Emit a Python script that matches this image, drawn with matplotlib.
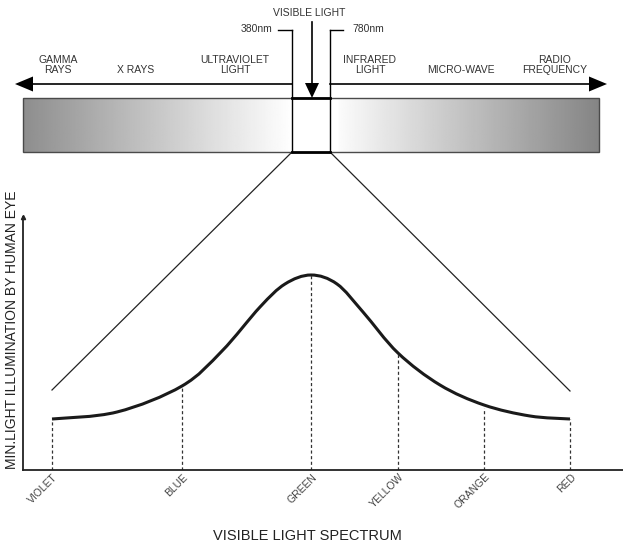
import numpy as np
import matplotlib
matplotlib.use("Agg")
import matplotlib.pyplot as plt
from matplotlib.patches import Polygon, Rectangle, PathPatch
from matplotlib.path import Path
from matplotlib.transforms import ScaledTranslation

plt.rcParams['font.family'] = ['Liberation Sans', 'DejaVu Sans']

# --- data -------------------------------------------------------------
band_names = ["GAMMA\nRAYS", "X RAYS", "ULTRAVIOLET\nLIGHT",
              "INFRARED\nLIGHT", "MICRO-WAVE", "RADIO\nFREQUENCY"]
visible_from = "380nm"
visible_to = "780nm"

colour_names = ["VIOLET", "BLUE", "GREEN", "YELLOW", "ORANGE", "RED"]
colour_pos = [29, 159, 288, 375, 461, 547]
colour_level = [51, 84, 195, 116, 62, 51]

# curve (spectrum position, min. illumination)
curve_pos = [29, 94, 159, 199, 237, 262, 288, 314, 340, 375, 417, 461, 507, 547]
curve_level = [51, 58, 84, 119, 163, 186, 195, 186, 158, 117, 85, 65, 54, 51]


def smooth_path(xs, ys):
    # Catmull-Rom through the read points, drawn as cubic Beziers
    p = np.column_stack([xs, ys]).astype(float)
    ext = np.vstack([p[0], p, p[-1]])
    verts = [p[0]]
    codes = [Path.MOVETO]
    for i in range(1, len(ext) - 2):
        c1 = ext[i] + (ext[i + 1] - ext[i - 1]) / 6
        c2 = ext[i + 1] - (ext[i + 2] - ext[i]) / 6
        verts += [c1, c2, ext[i + 1]]
        codes += [Path.CURVE4] * 3
    return Path(verts, codes)


# --- layout -----------------------------------------------------------
W, H = 623, 543
fig = plt.figure(figsize=(W / 100, H / 100), dpi=100)

# lower chart
ax = fig.add_axes([23 / W, (H - 470) / H, 600 / W, (470 - 217) / H])
ax.set_xlim(0, 600)
ax.set_ylim(0, 253)
for s in ['top', 'right']:
    ax.spines[s].set_visible(False)
for s in ['left', 'bottom']:
    ax.spines[s].set_linewidth(1.3)
    ax.spines[s].set_color('#222222')
ax.set_yticks([])
ax.add_patch(PathPatch(smooth_path(curve_pos, curve_level), fill=False,
                       ec='#1a1a1a', lw=2.2, capstyle='butt'))
ax.vlines(colour_pos, 0, colour_level, colors='#333333', linestyles=(0, (2.5, 2)),
          lw=0.9)
ax.plot([0], [253], marker='^', ms=3, color='#222222', clip_on=False)
ax.set_xticks(colour_pos, colour_names)
ax.tick_params(axis='x', length=0, pad=4, labelsize=7.5, labelcolor='#444444')
offset = ScaledTranslation(4 / 100, 0, fig.dpi_scale_trans)
for lab in ax.get_xticklabels():
    lab.set_rotation(45)
    lab.set_ha('right')
    lab.set_va('center')
    lab.set_rotation_mode('anchor')
    lab.set_transform(lab.get_transform() + offset)

# overlay in pixel units for the spectrum band
ov = fig.add_axes([0, 0, 1, 1], facecolor='none')
ov.set_xlim(0, W)
ov.set_ylim(H, 0)
ov.axis('off')

win_l, win_r = 292, 330
band_l, band_r, band_t, band_b = 22.7, 599, 98, 152

grad_l = np.linspace(0.52, 1.0, 256)[None, :] ** 0.9
grad_r = np.linspace(1.0, 0.52, 256)[None, :]
grad_r[0, :8] = 1.0
ov.imshow(grad_l, cmap='gray', vmin=0, vmax=1, aspect='auto',
          extent=[band_l, win_l, band_b, band_t], zorder=1)
ov.imshow(grad_r, cmap='gray', vmin=0, vmax=1, aspect='auto',
          extent=[win_r, band_r, band_b, band_t], zorder=1)
ov.add_patch(Rectangle((band_l, band_t), band_r - band_l, band_b - band_t,
                       fill=False, ec='#4a4a4a', lw=1.0, zorder=2))
ov.add_patch(Rectangle((win_l, band_t), win_r - win_l, band_b - band_t,
                       fc='white', ec='none', zorder=2))
ov.plot([win_l, win_r], [band_t, band_t], color='black', lw=2.0, zorder=3)
ov.plot([win_l, win_r], [band_b, band_b], color='black', lw=2.0, zorder=3)
ov.plot([win_l, win_l], [30, band_b], color='black', lw=1.0, zorder=3)
ov.plot([win_r, win_r], [30, band_b], color='black', lw=1.0, zorder=3)
ov.plot([278, win_l], [30, 30], color='black', lw=1.0)
ov.plot([win_r, 343], [30, 30], color='black', lw=1.0)

# horizontal double arrow
ov.plot([30, win_l], [84, 84], color='black', lw=1.2)
ov.plot([win_r, 592], [84, 84], color='black', lw=1.2)
ov.add_patch(Polygon([[15, 84], [33, 76.5], [33, 91.5]], closed=True,
                     fc='black', ec='none'))
ov.add_patch(Polygon([[607, 84], [589, 76.5], [589, 91.5]], closed=True,
                     fc='black', ec='none'))

# vertical arrow into the visible window
ov.plot([312, 312], [22, 85], color='black', lw=1.2)
ov.add_patch(Polygon([[312, 98], [305, 83], [319, 83]], closed=True,
                     fc='black', ec='none', zorder=4))

txt = dict(fontsize=7.5, color='#333333', ha='center', va='center',
           linespacing=1.0)
label_x = [58, 136, 235, 370, 461, 555]
for name, x in zip(band_names, label_x):
    y = 65 if '\n' in name else 70
    ov.text(x, y, name, **txt)
ov.text(309, 13, "VISIBLE LIGHT", **txt)
ov.text(272, 29, visible_from, fontsize=7.5, color='#333333', ha='right',
        va='center')
ov.text(352, 29, visible_to, fontsize=7.5, color='#333333', ha='left',
        va='center')

# lines from the window down to the chart
ov.plot([win_l, 52], [band_b, 390], color='#222222', lw=0.9)
ov.plot([win_r, 570], [band_b, 391], color='#222222', lw=0.9)

ov.text(12, 330, "MIN.LIGHT ILLUMINATION BY HUMAN EYE", rotation=90,
        fontsize=10, color='#222222', ha='center', va='center')
ov.text(307, 536, "VISIBLE LIGHT SPECTRUM", fontsize=10.5, color='#222222',
        ha='center', va='center')

fig.savefig('out.png', dpi=100)
